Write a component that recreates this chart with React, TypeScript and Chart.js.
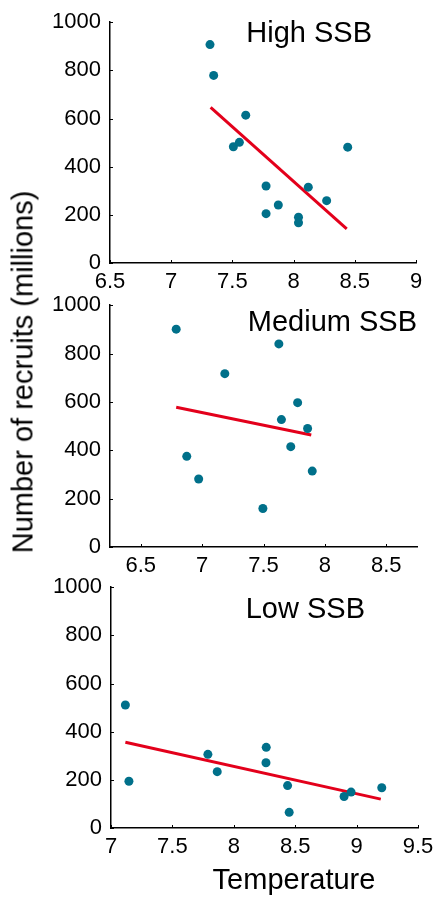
import React, { useEffect, useRef } from "react";
import { Chart, registerables } from "chart.js";

Chart.register(...registerables);

// ---------- DATA ----------
const yTicks = [0, 200, 400, 600, 800, 1000];

// High SSB
const highTemp = [7.317, 7.347, 7.609, 7.508, 7.557, 8.442, 7.775, 8.12, 8.27, 7.875, 7.775, 8.04, 8.04];
const highRecruits = [907, 779, 614, 483, 501, 481, 320, 315, 259, 241, 205, 190, 167];
const highFitTemp = [7.322, 8.434];
const highFitRecruits = [646, 142];
const highXTicks = [6.5, 7, 7.5, 8, 8.5, 9];

// Medium SSB
const medTemp = [6.789, 7.625, 7.185, 7.778, 7.646, 7.859, 7.722, 6.875, 7.897, 6.972, 7.495];
const medRecruits = [901, 840, 717, 597, 527, 490, 415, 375, 314, 281, 159];
const medFitTemp = [6.789, 7.889];
const medFitRecruits = [578, 463];
const medXTicks = [6.5, 7, 7.5, 8, 8.5];

// Low SSB
const lowTemp = [7.117, 7.146, 7.789, 7.865, 8.264, 8.262, 8.438, 8.451, 8.898, 8.955, 9.205];
const lowRecruits = [511, 194, 306, 234, 335, 271, 176, 65, 131, 149, 167];
const lowFitTemp = [7.117, 9.197];
const lowFitRecruits = [356, 120];
const lowXTicks = [7, 7.5, 8, 8.5, 9, 9.5];

const FONT = "'Liberation Sans', Arial, Helvetica, sans-serif";
const DOT = "#00708a";
const RED = "#e3001b";

type PanelProps = {
  top: number;
  height: number;
  xs: number[];
  ys: number[];
  fitX: number[];
  fitY: number[];
  xTicks: number[];
  xMin: number;
  xMax: number;
  label: string;
  labelRightOffset: number;
  labelTopOffset: number;
  padTop: number;
  padRight: number;
  yAxisWidth: number;
  xAxisHeight: number;
};

const innerTicks = {
  id: "innerTicks",
  afterDraw(chart: any) {
    const ctx = chart.ctx;
    const xs = chart.scales.x;
    const ys = chart.scales.y;
    const area = chart.chartArea;
    ctx.save();
    ctx.strokeStyle = "#000";
    ctx.lineWidth = 1;
    ctx.beginPath();
    xs.ticks.forEach((t: any) => {
      const px = Math.round(xs.getPixelForValue(t.value)) + 0.5;
      ctx.moveTo(px, area.bottom);
      ctx.lineTo(px, area.bottom - 3);
    });
    ys.ticks.forEach((t: any) => {
      const py = Math.round(ys.getPixelForValue(t.value)) + 0.5;
      ctx.moveTo(area.left, py);
      ctx.lineTo(area.left + 3, py);
    });
    ctx.stroke();
    ctx.restore();
  },
};

const panelLabel = {
  id: "panelLabel",
  afterDraw(chart: any, _args: any, opts: any) {
    const ctx = chart.ctx;
    const area = chart.chartArea;
    ctx.save();
    ctx.font = `29px ${FONT}`;
    ctx.fillStyle = "#000";
    ctx.textAlign = "right";
    ctx.textBaseline = "middle";
    ctx.fillText(opts.text, area.right - opts.rightOffset, area.top + opts.topOffset);
    ctx.restore();
  },
};

function Panel(p: PanelProps) {
  const ref = useRef<HTMLCanvasElement>(null);
  useEffect(() => {
    if (!ref.current) return;
    const chart = new Chart(ref.current, {
      type: "scatter",
      data: {
        datasets: [
          {
            data: p.fitX.map((x, i) => ({ x, y: p.fitY[i] })),
            showLine: true,
            borderColor: RED,
            borderWidth: 3,
            pointRadius: 0,
            order: 2,
          } as any,
          {
            data: p.xs.map((x, i) => ({ x, y: p.ys[i] })),
            backgroundColor: DOT,
            borderColor: DOT,
            borderWidth: 0,
            pointRadius: 4.5,
            order: 1,
          },
        ],
      },
      plugins: [innerTicks, panelLabel],
      options: {
        animation: false,
        responsive: false,
        layout: { padding: { top: p.padTop, right: p.padRight, left: 0, bottom: 0 } },
        plugins: {
          legend: { display: false },
          tooltip: { enabled: false },
          panelLabel: { text: p.label, rightOffset: p.labelRightOffset, topOffset: p.labelTopOffset },
        } as any,
        scales: {
          x: {
            type: "linear",
            min: p.xMin,
            max: p.xMax,
            grid: { display: false, drawTicks: false },
            border: { display: true, color: "#000", width: 1.5 },
            afterBuildTicks: (scale: any) => {
              scale.ticks = p.xTicks.map((v) => ({ value: v }));
            },
            afterFit: (scale: any) => {
              scale.height = p.xAxisHeight;
            },
            ticks: {
              color: "#000",
              font: { size: 22, family: FONT },
              padding: 6,
              maxRotation: 0,
              autoSkip: false,
              callback: (v: any) => String(v),
            },
          },
          y: {
            type: "linear",
            min: 0,
            max: 1000,
            grid: { display: false, drawTicks: false },
            border: { display: true, color: "#000", width: 1.5 },
            afterBuildTicks: (scale: any) => {
              scale.ticks = yTicks.map((v) => ({ value: v }));
            },
            afterFit: (scale: any) => {
              scale.width = p.yAxisWidth;
            },
            ticks: {
              color: "#000",
              font: { size: 22, family: FONT },
              padding: 9,
              autoSkip: false,
              callback: (v: any) => String(v),
            },
          },
        },
      },
    });
    return () => chart.destroy();
  }, []);
  return (
    <canvas
      ref={ref}
      width={440}
      height={p.height}
      style={{ position: "absolute", left: 0, top: p.top, width: 440, height: p.height }}
    />
  );
}

export default function App() {
  return (
    <div
      style={{
        position: "absolute",
        left: 0,
        top: 0,
        width: 440,
        height: 897,
        background: "#fff",
        overflow: "hidden",
        fontFamily: FONT,
      }}
    >
      <Panel
        top={0}
        height={290}
        xs={highTemp}
        ys={highRecruits}
        fitX={highFitTemp}
        fitY={highFitRecruits}
        xTicks={highXTicks}
        xMin={6.5}
        xMax={9}
        label="High SSB"
        labelRightOffset={44}
        labelTopOffset={12}
        padTop={22}
        padRight={24}
        yAxisWidth={110}
        xAxisHeight={27}
      />
      <Panel
        top={283}
        height={292}
        xs={medTemp}
        ys={medRecruits}
        fitX={medFitTemp}
        fitY={medFitRecruits}
        xTicks={medXTicks}
        xMin={6.25}
        xMax={8.75}
        label="Medium SSB"
        labelRightOffset={0}
        labelTopOffset={18}
        padTop={22}
        padRight={23}
        yAxisWidth={110}
        xAxisHeight={28}
      />
      <Panel
        top={565}
        height={332}
        xs={lowTemp}
        ys={lowRecruits}
        fitX={lowFitTemp}
        fitY={lowFitRecruits}
        xTicks={lowXTicks}
        xMin={7}
        xMax={9.5}
        label="Low SSB"
        labelRightOffset={53}
        labelTopOffset={23}
        padTop={22}
        padRight={22}
        yAxisWidth={111}
        xAxisHeight={69}
      />
      <div
        style={{
          position: "absolute",
          left: 23,
          top: 372,
          transform: "translate(-50%, -50%) rotate(-90deg)",
          fontSize: 29,
          lineHeight: 1,
          whiteSpace: "nowrap",
          color: "#000",
        }}
      >
        Number of recruits (millions)
      </div>
      <div
        style={{
          position: "absolute",
          left: 294,
          top: 865,
          transform: "translateX(-50%)",
          fontSize: 29,
          lineHeight: 1,
          whiteSpace: "nowrap",
          color: "#000",
        }}
      >
        Temperature
      </div>
    </div>
  );
}
